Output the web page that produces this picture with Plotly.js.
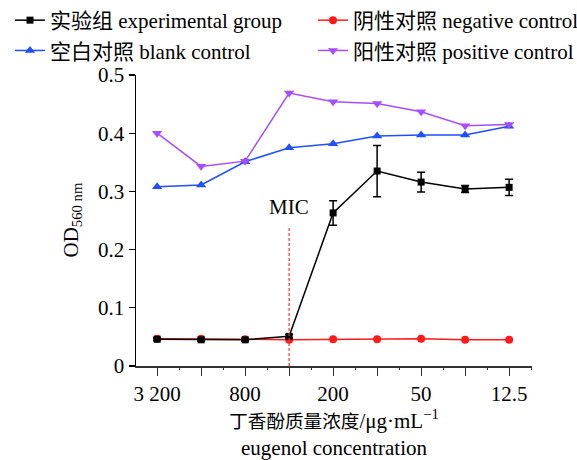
<!DOCTYPE html>
<html>
<head>
<meta charset="utf-8">
<script src="https://cdn.plot.ly/plotly-3.0.1.min.js"></script>
<style>html,body{margin:0;padding:0;background:#fff;}#chart{width:577px;height:460px;}</style>
</head>
<body>
<div id="chart"></div>
<script>
// Concentrations (μg/mL), in plotted order
const concentrations = ["3200", "1600", "800", "400", "200", "100", "50", "25", "12.5"];
const tickLabels = ["3 200", "", "800", "", "200", "", "50", "", "12.5"];

const experimental = [0.046, 0.045, 0.045, 0.051, 0.263, 0.335, 0.316, 0.304, 0.307];
const experimentalErr = [0.002, 0.002, 0.002, 0.003, 0.021, 0.044, 0.017, 0.006, 0.014];
const negativeCtrl = [0.047, 0.047, 0.046, 0.045, 0.046, 0.046, 0.047, 0.045, 0.045];
const blankCtrl = [0.308, 0.311, 0.351, 0.375, 0.382, 0.395, 0.397, 0.397, 0.412];
const positiveCtrl = [0.400, 0.343, 0.352, 0.469, 0.454, 0.451, 0.437, 0.413, 0.415];

const seriesNames = {
  experimental: "实验组 experimental group",
  negative: "阴性对照 negative control",
  blank: "空白对照 blank control",
  positive: "阳性对照 positive control"
};

const micConcentration = "400";
const micTop = 0.24;

const xIdx = concentrations.map((c, i) => i);
const FONT = "'Liberation Serif', 'Times New Roman', 'Noto Sans CJK SC', serif";
const cjk = (s, px) => '<span style="font-size:' + px + 'px">' + s + '</span>';

const traces = [
  {
    x: xIdx, y: negativeCtrl, name: seriesNames.negative, legend: "legend2",
    mode: "lines+markers", line: {color: "#ff1a1a", width: 1.5},
    marker: {symbol: "circle", size: 8, color: "#ff1a1a"}
  },
  {
    x: xIdx, y: blankCtrl, name: seriesNames.blank, legend: "legend", legendrank: 2,
    mode: "lines+markers", line: {color: "#1f4fff", width: 1.5},
    marker: {symbol: "triangle-up", size: 9, color: "#1f4fff"}
  },
  {
    x: xIdx, y: positiveCtrl, name: seriesNames.positive, legend: "legend2",
    mode: "lines+markers", line: {color: "#a64dff", width: 1.5},
    marker: {symbol: "triangle-down", size: 9, color: "#a64dff"}
  },
  {
    x: xIdx, y: experimental, name: seriesNames.experimental, legend: "legend", legendrank: 1,
    mode: "lines+markers", line: {color: "#000", width: 1.5},
    marker: {symbol: "square", size: 7, color: "#000"},
    error_y: {type: "data", array: experimentalErr, color: "#000", thickness: 1.5, width: 4}
  }
];

const micX = concentrations.indexOf(micConcentration);
const xRange = [-0.48, 8.52];

const legendBase = {
  orientation: "v", xref: "container", yref: "container",
  y: 1, xanchor: "left", yanchor: "top",
  font: {family: FONT, size: 21, color: "#000"},
  traceorder: "normal", tracegroupgap: 0, itemwidth: 30, bgcolor: "rgba(0,0,0,0)"
};

const layout = {
  width: 577, height: 460,
  margin: {l: 136, r: 45, t: 75, b: 94, autoexpand: false},
  paper_bgcolor: "#fff", plot_bgcolor: "#fff",
  font: {family: FONT, size: 21, color: "#000"},
  showlegend: true,
  legend: Object.assign({}, legendBase, {x: 10 / 577}),
  legend2: Object.assign({}, legendBase, {x: 313 / 577}),
  xaxis: {
    range: xRange,
    tickmode: "array", tickvals: xIdx, ticktext: tickLabels,
    ticks: "outside", ticklen: 8, tickwidth: 1.2, tickcolor: "#333",
    minor: {dtick: 0.5, tick0: 0, ticks: "outside", ticklen: 2, tickwidth: 1.2, tickcolor: "#333"},
    showline: true, linecolor: "#333", linewidth: 1.5,
    showgrid: false, zeroline: false,
    tickfont: {family: FONT, size: 21},
    title: {
      text: cjk("丁香酚质量浓度", 18.6) + "/μg·mL<sup>−1</sup><br>eugenol concentration",
      font: {family: FONT, size: 21}, standoff: 14
    }
  },
  xaxis2: {
    overlaying: "x", anchor: "y", side: "bottom", range: xRange,
    tickmode: "array", tickvals: xIdx, showticklabels: false,
    ticks: "inside", ticklen: 6, tickwidth: 1.2, tickcolor: "#333",
    showline: false, showgrid: false, zeroline: false
  },
  yaxis: {
    range: [0, 0.5], dtick: 0.1, tick0: 0,
    ticks: "outside", ticklen: 6, tickwidth: 1.2, tickcolor: "#000",
    showline: true, linecolor: "#000", linewidth: 1.5,
    showgrid: false, zeroline: false,
    tickfont: {family: FONT, size: 21},
    tickformat: ".1~f"
  },
  shapes: [{
    type: "line", xref: "x", yref: "y",
    x0: micX, x1: micX, y0: 0, y1: micTop,
    line: {color: "#ff3030", width: 1.2, dash: "3px,2px"}
  }],
  annotations: [
    {
      xref: "x", yref: "y", x: micX, y: micTop + 0.01, yanchor: "bottom",
      text: "MIC", showarrow: false, font: {family: FONT, size: 21, color: "#000"}
    },
    {
      xref: "paper", yref: "paper", x: (71 - 136) / 396, y: 0.5,
      xanchor: "center", yanchor: "middle", textangle: -90,
      text: "OD<sub>560 nm</sub>", showarrow: false, font: {family: FONT, size: 21, color: "#000"}
    }
  ]
};

Plotly.newPlot("chart", traces, layout, {displayModeBar: false, staticPlot: true});
</script>
</body>
</html>
